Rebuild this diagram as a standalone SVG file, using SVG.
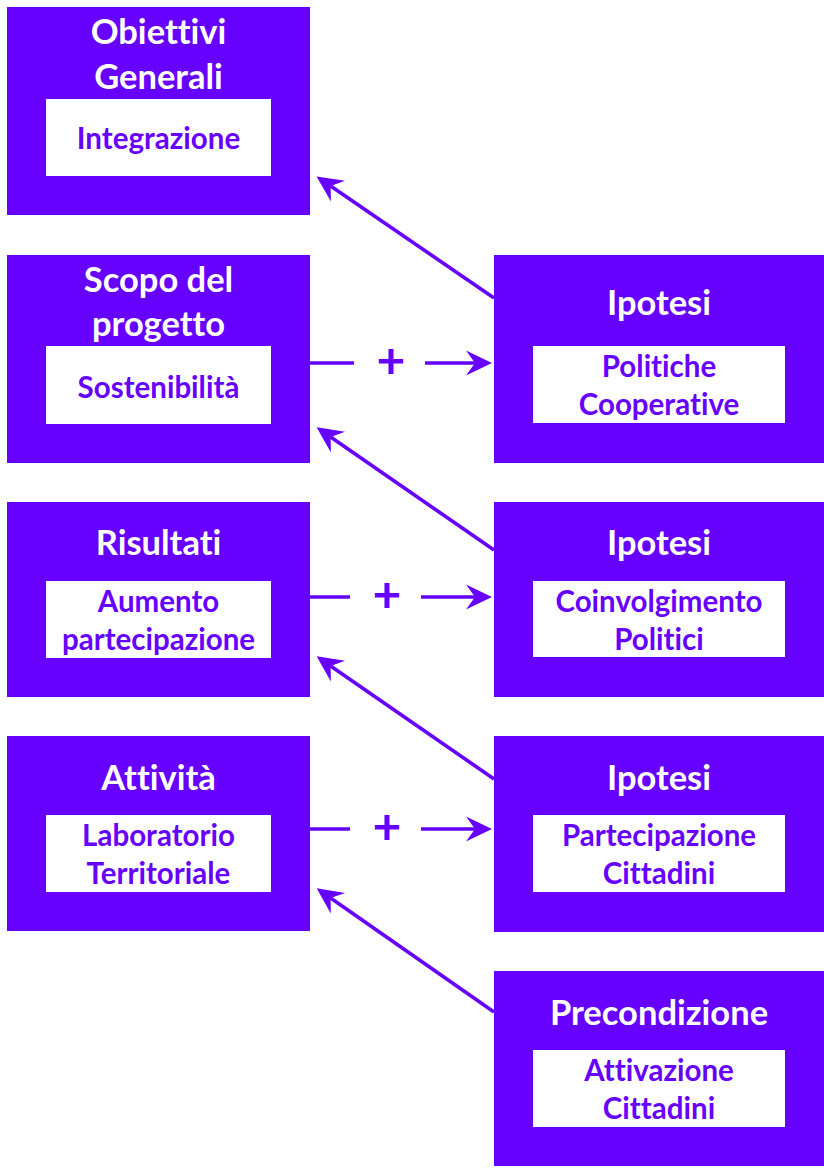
<svg xmlns="http://www.w3.org/2000/svg" width="824" height="1168" viewBox="0 0 824 1168">
<defs>
<style>
.box{fill:#6600FF}
.inner{fill:#FFFFFF}
text{font-variant-ligatures:none;font-feature-settings:"liga" 0,"clig" 0}
.t{font-family:Lato,"Open Sans","DejaVu Sans",sans-serif;font-weight:bold;font-size:34.5px;fill:#FFFFFF;text-anchor:middle}
.s{font-family:Lato,"Open Sans","DejaVu Sans",sans-serif;font-weight:bold;font-size:29.5px;fill:#6600FF;text-anchor:middle}
.plus{font-family:Lato,"DejaVu Sans",sans-serif;font-weight:bold;font-size:50px;fill:#6600FF;text-anchor:middle}
.c{stroke:#6600FF;stroke-width:3.6;fill:none}
</style>
<marker id="ah" markerUnits="userSpaceOnUse" viewBox="-10 -14 28 28" refX="0" refY="0" markerWidth="28" markerHeight="28" orient="auto" overflow="visible">
<path d="M17,0 L-9,-12.5 L0,0 L-9,12.5 Z" fill="#6600FF"/>
</marker>
</defs>
<rect width="824" height="1168" fill="#FFFFFF"/>

<g id="obiettivi">
<rect class="box" x="7" y="7" width="303" height="208"/>
<rect class="inner" x="46" y="99" width="225" height="77"/>
<text class="t" x="158.5" y="43.5">Obiettivi</text>
<text class="t" x="158.5" y="88.5">Generali</text>
<text class="s" x="158.5" y="148.5">Integrazione</text>
</g>

<g id="scopo">
<rect class="box" x="7" y="255" width="303" height="208"/>
<rect class="inner" x="46" y="346" width="225" height="78"/>
<text class="t" x="158.5" y="291.5">Scopo del</text>
<text class="t" x="158.5" y="335.5">progetto</text>
<text class="s" x="158.5" y="397.5">Sostenibilità</text>
</g>

<g id="risultati">
<rect class="box" x="7" y="502" width="303" height="195"/>
<rect class="inner" x="46" y="581" width="225" height="77"/>
<text class="t" x="158.5" y="554.5">Risultati</text>
<text class="s" x="158.5" y="611.5">Aumento</text>
<text class="s" x="158.5" y="649.5">partecipazione</text>
</g>

<g id="attivita">
<rect class="box" x="7" y="736" width="303" height="195"/>
<rect class="inner" x="46" y="815" width="225" height="77"/>
<text class="t" x="158.5" y="789.5">Attività</text>
<text class="s" x="158.5" y="845.5">Laboratorio</text>
<text class="s" x="158.5" y="883.5">Territoriale</text>
</g>

<g id="ipotesi1">
<rect class="box" x="494" y="255" width="330" height="208"/>
<rect class="inner" x="533" y="346" width="252" height="77"/>
<text class="t" x="659" y="314.5">Ipotesi</text>
<text class="s" x="659" y="376.5">Politiche</text>
<text class="s" x="659" y="414.5">Cooperative</text>
</g>

<g id="ipotesi2">
<rect class="box" x="494" y="502" width="330" height="195"/>
<rect class="inner" x="533" y="581" width="252" height="76"/>
<text class="t" x="659" y="554.5">Ipotesi</text>
<text class="s" x="659" y="611.5">Coinvolgimento</text>
<text class="s" x="659" y="649.5">Politici</text>
</g>

<g id="ipotesi3">
<rect class="box" x="494" y="736" width="330" height="196"/>
<rect class="inner" x="533" y="815" width="252" height="77"/>
<text class="t" x="659" y="789.5">Ipotesi</text>
<text class="s" x="659" y="845.5">Partecipazione</text>
<text class="s" x="659" y="883.5">Cittadini</text>
</g>

<g id="precondizione">
<rect class="box" x="494" y="971" width="330" height="195"/>
<rect class="inner" x="533" y="1050" width="252" height="77"/>
<text class="t" x="659" y="1024.5">Precondizione</text>
<text class="s" x="659" y="1080.5">Attivazione</text>
<text class="s" x="659" y="1118.5">Cittadini</text>
</g>

<g id="connectors">
<line class="c" x1="494" y1="298" x2="330.6" y2="186" marker-end="url(#ah)"/>
<line class="c" x1="494" y1="550" x2="330.6" y2="437" marker-end="url(#ah)"/>
<line class="c" x1="494" y1="779" x2="330.6" y2="666" marker-end="url(#ah)"/>
<line class="c" x1="494" y1="1012" x2="330.6" y2="898" marker-end="url(#ah)"/>

<line class="c" x1="310" y1="363" x2="354" y2="363"/>
<text class="plus" x="391" y="378">+</text>
<line class="c" x1="425" y1="363" x2="475" y2="363" marker-end="url(#ah)"/>

<line class="c" x1="310" y1="597" x2="350" y2="597"/>
<text class="plus" x="387" y="612">+</text>
<line class="c" x1="421" y1="597" x2="475" y2="597" marker-end="url(#ah)"/>

<line class="c" x1="310" y1="829" x2="350" y2="829"/>
<text class="plus" x="387" y="844">+</text>
<line class="c" x1="421" y1="829" x2="475" y2="829" marker-end="url(#ah)"/>
</g>
</svg>
